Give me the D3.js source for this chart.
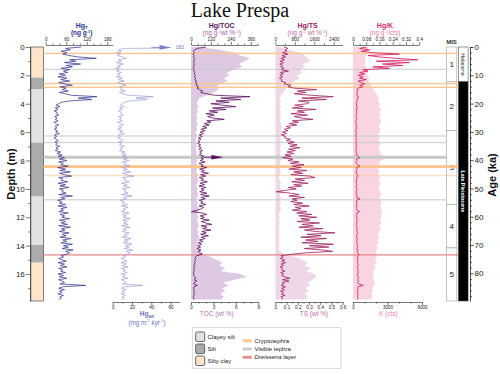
<!DOCTYPE html>
<html>
<head>
<meta charset="utf-8">
<script src="https://cdnjs.cloudflare.com/ajax/libs/d3/7.8.5/d3.min.js"></script>
<style>
  body { margin: 0; background: #fff; }
  svg { display: block; }
</style>
</head>
<body>
<svg id="svg" width="500" height="374"></svg>
<script>
// sample spacing down core (m)
const lineStep = 0.1;
const fillStep = 0.2;

// Hg_T (ng/g), every 0.1 m
const hgT = [
  104, 58, 72, 45, 62, 50, 68, 95, 148, 70,
  88, 55, 102, 60, 78, 45, 70, 52, 64, 40,
  58, 36, 62, 44, 70, 38, 55, 78, 42, 60,
  48, 66, 40, 58, 75, 150, 95, 135, 70, 45,
  38, 30, 42, 28, 36, 25, 34, 30, 38, 26,
  33, 28, 36, 24, 31, 38, 27, 33, 25, 35,
  29, 40, 26, 32, 24, 30, 37, 27, 34, 29,
  41, 30, 36, 28, 44, 33, 48, 36, 55, 40,
  62, 38, 52, 44, 66, 35, 58, 42, 72, 40,
  55, 76, 38, 50, 45, 64, 36, 58, 42, 68,
  40, 52, 47, 60, 38, 78, 44, 56, 35, 48,
  40, 58, 36, 62, 44, 52, 38, 66, 42, 55,
  47, 70, 40, 58, 45, 64, 38, 72, 46, 56,
  40, 68, 48, 60, 42, 74, 50, 62, 45, 78,
  52, 66, 48, 80, 58, 70, 62, 45, 52, 38,
  48, 60, 36, 55, 42, 62, 38, 50, 44, 58,
  36, 52, 40, 62, 38, 48, 55, 42, 117, 50,
  38, 55, 40, 48, 36, 52, 42, 46, 38
];

// Hg accumulation rate (mg m-2 kyr-1)
const hgAR = [
  183, 12, 6, 9, 4, 8, 5, 10, 14, 6,
  9, 4, 11, 5, 8, 3, 7, 4, 9, 5,
  8, 4, 10, 6, 12, 5, 9, 14, 7, 10,
  8, 13, 7, 11, 16, 42, 24, 36, 18, 12,
  10, 8, 12, 7, 10, 6, 9, 8, 11, 6,
  9, 7, 10, 5, 8, 11, 6, 9, 5, 10,
  7, 12, 6, 8, 5, 9, 11, 6, 9, 7,
  12, 8, 10, 7, 13, 9, 14, 10, 15, 11,
  17, 10, 14, 12, 18, 9, 15, 11, 19, 10,
  14, 22, 10, 13, 12, 17, 9, 15, 11, 18,
  10, 14, 12, 16, 9, 20, 11, 14, 8, 12,
  10, 15, 9, 16, 11, 13, 9, 17, 10, 14,
  11, 18, 10, 15, 11, 16, 9, 18, 11, 14,
  10, 17, 12, 15, 10, 19, 12, 16, 11, 20,
  13, 17, 12, 21, 14, 18, 16, 11, 13, 9,
  12, 15, 9, 14, 10, 16, 9, 13, 11, 15,
  9, 13, 10, 16, 9, 12, 14, 10, 31, 12,
  9, 14, 10, 12, 9, 13, 10, 12, 9
];

// Hg/TOC
const hgTOC = [
  90, 38, 22, 15, 20, 12, 18, 14, 24, 16,
  20, 13, 22, 15, 19, 12, 20, 16, 24, 18,
  26, 20, 30, 22, 34, 25, 38, 30, 45, 36,
  52, 70, 58, 95, 140, 355, 180, 300, 150, 230,
  120, 190, 270, 130, 210, 110, 160, 90, 140, 100,
  130, 200, 95, 120, 80, 110, 70, 95, 60, 85,
  55, 75, 50, 68, 45, 60, 42, 55, 40, 58,
  45, 62, 48, 70, 52, 65, 50, 80, 60, 75,
  55, 85, 48, 72, 60, 95, 52, 80, 62, 105,
  58, 88, 50, 75, 62, 98, 55, 82, 48, 90,
  60, 78, 52, 95, 58, 110, 62, 85, 50, 72,
  58, 90, 48, 76, 62, 40, 3, 68, 95, 55,
  80, 58, 110, 62, 88, 125, 60, 96, 70, 120,
  65, 92, 58, 105, 62, 85, 50, 72, 45, 64,
  40, 58, 36, 60, 42, 55, 68, 35, 28, 22,
  30, 20, 26, 18, 24, 16, 22, 15, 20, 14,
  18, 15, 22, 30, 18, 35, 20, 16, 38, 18,
  14, 20, 15, 22, 16, 19, 14, 18, 15
];

// TOC (wt %), every 0.2 m
const toc = [
  1.2, 3.8, 5.9, 6.6, 7.9, 7.2, 6.4, 6.9, 5.8, 4.8,
  5.1, 4.4, 4.9, 3.9, 3.4, 3.7, 3.0, 2.2, 1.1, 0.9,
  0.8, 1.0, 0.8, 0.9, 0.7, 0.8, 0.7, 0.9, 0.7, 0.8,
  0.6, 0.8, 0.7, 0.6, 0.8, 0.7, 0.6, 0.8, 0.7, 0.9,
  0.8, 0.7, 0.9, 0.8, 0.7, 0.9, 0.8, 1.0, 0.8, 0.7,
  0.9, 0.8, 1.0, 0.8, 0.7, 0.9, 0.8, 1.1, 0.9, 0.8,
  1.0, 0.8, 0.9, 1.1, 0.8, 1.0, 0.9, 1.1, 0.9, 1.0,
  0.8, 1.0, 1.2, 1.6, 2.6, 3.4, 4.2, 3.8, 4.6, 4.0,
  6.6, 7.5, 5.8, 4.3, 5.0, 4.1, 4.6, 3.9, 4.4, 4.0
];

// Hg/TS
const hgTS = [
  350, 520, 400, 470, 300, 520, 280, 420, 230, 380,
  200, 340, 180, 300, 220, 360, 250, 540, 210, 330,
  190, 300, 170, 280, 240, 420, 360, 650, 520, 760,
  1700, 900, 1250, 780, 1450, 2380, 1100, 2100, 950, 1400,
  1290, 800, 1150, 700, 1680, 900, 1200, 650, 1320, 780,
  1050, 1550, 700, 950, 580, 880, 450, 620, 380, 520,
  300, 460, 250, 420, 380, 620, 450, 780, 520, 900,
  600, 1010, 550, 820, 480, 760, 400, 650, 300, 720,
  520, 980, 620, 1180, 700, 1050, 560, 1300, 760, 1120,
  640, 1430, 1630, 820, 1200, 680, 1350, 760, 1080, 520,
  860, 420, 40, 620, 980, 560, 1200, 700, 900, 640,
  1120, 760, 1400, 820, 1060, 700, 1300, 880, 1500, 960,
  1700, 1050, 1420, 900, 1820, 1100, 1560, 980, 1950, 1200,
  1650, 2450, 1300, 1880, 1050, 2100, 1250, 1750, 1100, 2390,
  1400, 2200, 1200, 1900, 2350, 1300, 700, 240, 320, 210,
  380, 260, 420, 230, 350, 200, 310, 250, 400, 220,
  340, 260, 380, 600, 300, 560, 280, 350, 240, 420,
  260, 380, 220, 340, 250, 400, 230, 310, 260
];

// TS (wt %), every 0.2 m
const ts = [
  0.04, 0.12, 0.22, 0.26, 0.29, 0.31, 0.24, 0.27, 0.21, 0.24,
  0.19, 0.22, 0.17, 0.14, 0.11, 0.09, 0.07, 0.05, 0.04, 0.05,
  0.04, 0.05, 0.04, 0.05, 0.04, 0.05, 0.04, 0.05, 0.06, 0.05,
  0.06, 0.05, 0.04, 0.05, 0.04, 0.05, 0.04, 0.05, 0.04, 0.06,
  0.05, 0.04, 0.05, 0.04, 0.05, 0.04, 0.03, 0.04, 0.05, 0.04,
  0.05, 0.06, 0.04, 0.05, 0.04, 0.05, 0.04, 0.05, 0.04, 0.03,
  0.04, 0.03, 0.04, 0.03, 0.04, 0.03, 0.04, 0.03, 0.04, 0.03,
  0.04, 0.03, 0.04, 0.08, 0.18, 0.24, 0.29, 0.26, 0.32, 0.28,
  0.35, 0.37, 0.33, 0.29, 0.31, 0.27, 0.30, 0.26, 0.29, 0.27
];

// Hg/K
const hgK = [
  0.08, 0.04, 0.10, 0.05, 0.12, 0.28, 0.09, 0.16, 0.26, 0.39,
  0.14, 0.34, 0.18, 0.30, 0.12, 0.22, 0.06, 0.09, 0.04, 0.07,
  0.03, 0.06, 0.04, 0.08, 0.03, 0.05, 0.07, 0.04, 0.06, 0.03,
  .025, .03, .02, .028, .022, .035, .024, .03, .02, .026,
  .018, .024, .02, .028, .016, .022, .019, .025, .017, .021,
  .018, .024, .016, .02, .015, .022, .018, .025, .016, .02,
  .017, .023, .015, .02, .018, .024, .016, .021, .018, .022,
  .017, .024, .016, .02, .019, .023, .018, .03, .04, .02,
  .024, .018, .022, .028, .042, .02, .025, .018, .023, .019,
  .026, .03, .02, .024, .018, .022, .019, .025, .018, .022,
  .02, .024, .017, .023, .019, .026, .021, .042, .02, .024,
  .019, .025, .018, .023, .02, .026, .04, .022, .025, .019,
  .024, .02, .027, .021, .025, .019, .024, .021, .028, .02,
  .025, .03, .021, .026, .02, .027, .022, .026, .02, .03,
  .024, .028, .022, .03, .025, .028, .036, .03, .026, .032,
  .025, .03, .024, .033, .027, .031, .025, .034, .028, .032,
  .026, .03, .028, .036, .027, .033, .029, .034, .062, .03,
  .027, .032, .026, .03, .025, .031, .027, .03, .026
];

// K (cts), every 0.2 m
const kCts = [
  1350, 1280, 1200, 1150, 1050, 1100, 1000, 1150, 1250, 1320,
  1200, 1400, 1350, 1500, 1620, 1800, 1950, 2100, 2250, 2150,
  2350, 2200, 2450, 2300, 2400, 2250, 2450, 2350, 2200, 2400,
  2300, 2150, 2350, 2250, 2400, 2300, 2200, 2350, 2450, 3000,
  2400, 2250, 2350, 2200, 2300, 2150, 2350, 2250, 2400, 2300,
  2200, 2350, 2450, 2300, 2400, 2500, 2350, 2450, 2550, 2400,
  2500, 2350, 2450, 2300, 2400, 2250, 2150, 2300, 2100, 2200,
  2050, 2150, 2000, 1950, 2100, 1900, 2050, 1850, 1950, 1800,
  1700, 1850, 1750, 1900, 1800, 1650, 1750, 1600, 1700, 1550
];

// lithology
const lithTop = [0, 2.16, 2.98, 6.74, 10.54, 13.95, 15.2];
const lithBase = [2.16, 2.98, 6.74, 10.54, 13.95, 15.2, 17.9];
const lithType = ['Silty clay', 'Silt', 'Clayey silt', 'Silt', 'Clayey silt', 'Silt', 'Silty clay'];
const lithLegend = ['Clayey silt', 'Silt', 'Silty clay'];

// marker layers (depth m, thickness m)
const eventDepth = [0.45, 1.57, 2.58, 2.84, 6.27, 6.74, 7.77, 8.43, 9.06, 10.77, 14.65];
const eventThick = [0, 0, 0, 0, 0, 0, 0.22, 0.2, 0, 0, 0];
const eventType = ['Cryptotephra', 'Visible tephra', 'Cryptotephra', 'Cryptotephra', 'Visible tephra',
  'Visible tephra', 'Visible tephra', 'Cryptotephra', 'Cryptotephra', 'Visible tephra', 'Dreissena layer'];
const eventLegend = ['Cryptotephra', 'Visible tephra', 'Dreissena layer'];

// chronology (ka)
const misTop = [0, 12.3, 29.5, 55.6, 71];
const misBase = [12.3, 29.5, 55.6, 71, 89.75];
const misLabel = ['1', '2', '3', '4', '5'];
const epochTop = [0, 12.3];
const epochBase = [12.3, 89.75];
const epochName = ['Holocene', 'Late Pleistocene'];

// ticks
const depthTicks = [0, 2, 4, 6, 8, 10, 12, 14, 16];
const depthMinor = [1, 3, 5, 7, 9, 11, 13, 15, 17];
const ageTicks = [0, 10, 20, 30, 40, 50, 60, 70, 80];
const ageMinor = [0, 2, 4, 6, 8, 12, 14, 16, 18, 22, 24, 26, 28, 32, 34, 36, 38, 42, 44, 46, 48, 52, 54, 56, 58, 62, 64, 66, 68, 72, 74, 76, 78, 82, 84, 86, 88];
const hgTTicks = [0, 60, 120, 180];
const hgTMinor = [20, 40, 80, 100, 140, 160];
const hgARTicks = [0, 20, 40, 60];
const hgARMinor = [10, 30, 50];
const hgTOCTicks = [0, 120, 240, 360];
const hgTOCMinor = [40, 80, 160, 200, 280, 320, 400];
const tocTicks = [0, 3, 6, 9];
const tocMinor = [1, 2, 4, 5, 7, 8];
const hgTSTicks = [0, 800, 1600, 2400];
const hgTSMinor = [400, 1200, 2000];
const tsTicks = [0, 0.1, 0.2, 0.3, 0.4, 0.5, 0.6];
const tsMinor = [0.05, 0.15, 0.25, 0.35, 0.45, 0.55];
const hgKTicks = [0, 0.08, 0.16, 0.24, 0.32, 0.4];
const hgKMinor = [0.04, 0.12, 0.2, 0.28, 0.36];
const kTicks = [0, 3000, 6000];
const kMinor = [1000, 2000, 4000, 5000];

const FONT = '"Liberation Sans", Arial, sans-serif';
const svg = d3.select('#svg');
const defs = svg.append('defs');

const yDepth = d3.scaleLinear().domain([0, 17.9]).range([47, 301]);
const yAge = d3.scaleLinear().domain([0, 89.75]).range([47, 301]);

const xHgT = d3.scaleLinear().domain([0, 196]).range([45.7, 112.7]);
const xHgAR = d3.scaleLinear().domain([0, 69.5]).range([112.7, 179.8]);
const xHgTOC = d3.scaleLinear().domain([0, 405]).range([191, 258.3]);
const xTOC = d3.scaleLinear().domain([0, 9]).range([191, 258.3]);
const xHgTS = d3.scaleLinear().domain([0, 2770]).range([275.3, 342.7]);
const xTS = d3.scaleLinear().domain([0, 0.6]).range([275.3, 342.7]);
const xHgK = d3.scaleLinear().domain([0, 0.4]).range([353, 419.3]);
const xK = d3.scaleLinear().domain([0, 6000]).range([353, 422]);

const rows = (vals, step) => vals.map((v, i) => ({d: i * step, v: v}));

function clip(id, x0, x1) {
  defs.append('clipPath').attr('id', id).
  append('rect').attr('x', x0).attr('y', 40).attr('width', x1 - x0).attr('height', 265);
}
clip('cHgT', 44, 112.7);
clip('cHgAR', 112.7, 160);
clip('cTOC', 191, 258.3);
clip('cTS', 275.3, 342.7);
clip('cK', 353, 422);

function fill(vals, x, color, clipId) {
  svg.append('path').
  datum(rows(vals, fillStep)).
  attr('clip-path', `url(#${clipId})`).
  attr('fill', color).
  attr('d', d3.area().y(d => yDepth(d.d)).x0(x(0)).x1(d => x(d.v)));
}

function trace(vals, x, color, clipId, w) {
  svg.append('path').
  datum(rows(vals, lineStep)).
  attr('clip-path', `url(#${clipId})`).
  attr('fill', 'none').
  attr('stroke', color).
  attr('stroke-width', w || 0.7).
  attr('stroke-linejoin', 'round').
  attr('d', d3.line().x(d => x(d.v)).y(d => yDepth(d.d)));
}

// ---- fills
fill(toc, xTOC, '#ddc9e1', 'cTOC');
fill(ts, xTS, '#eed8e8', 'cTS');
fill(kCts, xK, '#f8d5e0', 'cK');

// ---- lithology column
const lithColor = {'Clayey silt': '#e2e2e2', 'Silt': '#ababab', 'Silty clay': '#fde4cb'};
svg.append('g').selectAll('rect').
data(lithType).
enter().
append('rect').
attr('x', 30.3).
attr('width', 13.2).
attr('y', (d, i) => yDepth(lithTop[i])).
attr('height', (d, i) => yDepth(lithBase[i]) - yDepth(lithTop[i])).
attr('fill', d => lithColor[d]);
svg.append('rect').attr('x', 30.3).attr('y', yDepth(0)).attr('width', 13.2).
attr('height', yDepth(17.9) - yDepth(0)).attr('fill', 'none').attr('stroke', '#333').attr('stroke-width', 0.6);

// ---- MIS and epoch columns
const mis = svg.append('g');
mis.selectAll('rect').
data(misLabel).
enter().
append('rect').
attr('x', 446.5).
attr('width', 10.3).
attr('y', (d, i) => yAge(misTop[i])).
attr('height', (d, i) => yAge(misBase[i]) - yAge(misTop[i])).
attr('fill', '#fff').
attr('stroke', '#aaa').
attr('stroke-width', 0.7);
mis.selectAll('text').
data(misLabel).
enter().
append('text').
attr('x', 451.7).
attr('y', (d, i) => (yAge(misTop[i]) + yAge(misBase[i])) / 2).
attr('dy', '0.35em').
attr('text-anchor', 'middle').
attr('font-family', FONT).
attr('font-size', 8).
attr('fill', '#222').
text(d => d);

const ep = svg.append('g');
ep.selectAll('rect').
data(epochName).
enter().
append('rect').
attr('x', 458.3).
attr('width', 9.8).
attr('y', (d, i) => yAge(epochTop[i])).
attr('height', (d, i) => yAge(epochBase[i]) - yAge(epochTop[i])).
attr('fill', (d, i) => i === 0 ? '#fff' : '#000').
attr('stroke', '#555').
attr('stroke-width', 0.6);
ep.selectAll('text').
data(epochName).
enter().
append('text').
attr('transform', (d, i) => `translate(463.2,${(yAge(epochTop[i]) + yAge(epochBase[i])) / 2}) rotate(90)`).
attr('dy', '0.35em').
attr('text-anchor', 'middle').
attr('font-family', FONT).
attr('font-size', 5.3).
attr('font-weight', (d, i) => i === 0 ? 'normal' : 'bold').
attr('fill', (d, i) => i === 0 ? '#222' : '#fff').
text(d => d);

// ---- marker layers
const eventColor = {'Cryptotephra': '#fcc590', 'Visible tephra': '#c9c9c9', 'Dreissena layer': '#e48c8c'};
const eventMin = {'Cryptotephra': 1.4, 'Visible tephra': 1.0, 'Dreissena layer': 1.3};
svg.append('g').selectAll('rect').
data(eventType).
enter().
append('rect').
attr('x', 43.5).
attr('width', d => (d === 'Visible tephra' ? 446.5 : 458.3) - 43.5).
attr('height', (d, i) => Math.max(eventMin[d], yDepth(eventThick[i]) - yDepth(0))).
attr('y', (d, i) => yDepth(eventDepth[i]) - Math.max(eventMin[d], yDepth(eventThick[i]) - yDepth(0)) / 2).
attr('fill', d => eventColor[d]).
attr('opacity', (d, i) => eventDepth[i] === 9.06 ? 0.6 : 1);

// ---- traces
trace(hgT, xHgT, '#34378f', 'cHgT', 0.75);
trace(hgAR, xHgAR, '#9a9dd3', 'cHgAR', 0.7);
trace(hgTOC, xHgTOC, '#5c0e60', 'cTOC', 0.8);
trace(hgTS, xHgTS, '#9c1d5e', 'cTS', 0.8);
trace(hgK, xHgK, '#d1175a', 'cK', 0.8);

// off-scale arrows
function arrow(x0, x1, y, color) {
  svg.append('line').attr('x1', x0).attr('x2', x1 - 10).attr('y1', y).attr('y2', y).
  attr('stroke', color).attr('stroke-width', 0.8);
  svg.append('path').attr('d', `M${x1 - 12},${y - 2.3}L${x1},${y}L${x1 - 12},${y + 2.3}Z`).attr('fill', color);
}
arrow(xHgAR(40), xHgAR(61), yDepth(0) + 0.4, '#7e82c6');
arrow(xHgTOC(80), xHgTOC(195), yDepth(7.77), '#5c0e60');
svg.append('text').attr('x', xHgAR(65)).attr('y', yDepth(0) + 2).
attr('font-family', FONT).attr('font-size', 5).attr('fill', '#6f74c0').text(hgAR[0]);

// ---- axes
function axis(gen, scale, tf, major, minor, fmt, size, fs) {
  const g = svg.append('g').attr('transform', tf);
  g.call(gen(scale).tickValues(minor).tickSize(size * 0.5).tickSizeOuter(0).tickFormat(''));
  const m = g.append('g').call(gen(scale).tickValues(major).tickSize(size).tickSizeOuter(0).tickPadding(1).tickFormat(fmt));
  m.select('.domain').remove();
  g.selectAll('line, path').attr('stroke', '#222').attr('stroke-width', 0.6);
  g.attr('font-family', FONT).attr('font-size', fs);
  m.attr('font-family', FONT).attr('font-size', fs);
  g.selectAll('text').attr('fill', '#222');
  return g;
}
const fmt = d => String(d);
axis(d3.axisTop, xHgT, 'translate(0,45)', hgTTicks, hgTMinor, fmt, 3, 4.6);
axis(d3.axisBottom, xHgAR, 'translate(0,302)', hgARTicks, hgARMinor, fmt, 3, 4.6);
axis(d3.axisTop, xHgTOC, 'translate(0,45)', hgTOCTicks, hgTOCMinor, fmt, 3, 4.6);
axis(d3.axisBottom, xTOC, 'translate(0,302)', tocTicks, tocMinor, fmt, 3, 4.6);
axis(d3.axisTop, xHgTS, 'translate(0,45)', hgTSTicks, hgTSMinor, fmt, 3, 4.6);
axis(d3.axisBottom, xTS, 'translate(0,302)', tsTicks, tsMinor, fmt, 3, 4.6);
axis(d3.axisTop, xHgK, 'translate(0,45)', hgKTicks, hgKMinor, fmt, 3, 4.6);
axis(d3.axisBottom, xK, 'translate(0,302)', kTicks, kMinor, fmt, 3, 4.6);
axis(d3.axisLeft, yDepth, 'translate(30.3,0)', depthTicks, depthMinor, fmt, 4.5, 8);
const ageAx = axis(d3.axisRight, yAge, 'translate(470,0)', ageTicks, ageMinor, fmt, 3.6, 8);
ageAx.selectAll('line, path').attr('stroke-width', 0.8);

// ---- labels
function rich(x, y, segs, size, color, weight) {
  const t = svg.append('text').attr('x', x).attr('y', y).attr('text-anchor', 'middle').
  attr('font-family', FONT).attr('font-size', size).attr('fill', color).attr('font-weight', weight || 'normal');
  let shift = 0;
  segs.forEach(([s, kind]) => {
    const target = kind === 'sup' ? -size * 0.38 : kind === 'sub' ? size * 0.25 : 0;
    t.append('tspan').
    attr('dy', target - shift).
    attr('font-size', kind === 'sup' || kind === 'sub' ? size * 0.62 : size).
    attr('font-style', kind === 'i' ? 'italic' : null).
    text(s);
    shift = target;
  });
  return t;
}

svg.append('text').attr('x', 240).attr('y', 17).attr('text-anchor', 'middle').
attr('font-family', '"Liberation Serif", "Times New Roman", serif').attr('font-size', 20).attr('fill', '#111').
text('Lake Prespa');

rich(81.7, 27.6, [['Hg'], ['T', 'sub']], 7, '#2e3192', 'bold');
rich(81.7, 35.2, [['(ng g'], ['-1', 'sup'], [')']], 6.5, '#2e3192', 'bold');
rich(147, 316, [['Hg'], ['AR', 'sub']], 6.5, '#6f74c0', 'bold');
rich(147, 324.5, [['(mg m'], ['-2', 'sup'], [' kyr'], ['-1', 'sup'], [')']], 6.3, '#6f74c0');
rich(221.7, 27.6, [['Hg/TOC']], 7, '#5e1463', 'bold');
rich(221.7, 35.2, [['(ng g'], ['-1', 'sup'], ['wt %'], ['-1', 'sup'], [')']], 6.5, '#a561a8');
rich(307.5, 27.6, [['Hg/TS']], 7, '#99205f', 'bold');
rich(307.5, 35.2, [['(ng g'], ['-1', 'sup'], [' wt %'], ['-1', 'sup'], [')']], 6.5, '#c0679c');
rich(385, 27.6, [['Hg/K']], 7, '#d42b65', 'bold');
rich(385, 35.2, [['(ng g'], ['-1', 'sup'], ['/cts)']], 6.5, '#e8799f');
rich(216.7, 315.5, [['TOC (wt %)']], 6.5, '#b07ab4');
rich(314, 315.5, [['TS (wt %)']], 6.5, '#c76fa2');
rich(388.3, 315.5, [['K (cts)']], 6.5, '#ee86aa');

svg.append('text').attr('x', 451.5).attr('y', 44.3).attr('text-anchor', 'middle').
attr('font-family', FONT).attr('font-size', 6).attr('font-weight', 'bold').attr('fill', '#333').text('MIS');

svg.append('text').attr('transform', 'translate(14.5,174) rotate(-90)').attr('text-anchor', 'middle').
attr('font-family', FONT).attr('font-size', 11).attr('font-weight', 'bold').attr('fill', '#111').text('Depth (m)');
svg.append('text').attr('transform', 'translate(495.5,175) rotate(-90)').attr('text-anchor', 'middle').
attr('font-family', FONT).attr('font-size', 11).attr('font-weight', 'bold').attr('fill', '#111').text('Age (ka)');

// ---- legend
const lg = svg.append('g');
lg.append('rect').attr('x', 192.3).attr('y', 327.7).attr('width', 148.7).attr('height', 40.6).
attr('fill', '#fff').attr('stroke', '#d0d0d0').attr('stroke-width', 0.8);
lg.selectAll('.lith').
data(lithLegend).
enter().
append('rect').
attr('x', 195.7).
attr('y', (d, i) => 332 + i * 12).
attr('width', 9).
attr('height', 9.5).
attr('rx', 1.5).
attr('fill', d => lithColor[d]).
attr('stroke', '#555').
attr('stroke-width', 0.9);
lg.selectAll('.lithText').
data(lithLegend).
enter().
append('text').
attr('x', 207.5).
attr('y', (d, i) => 338.8 + i * 12).
attr('font-family', FONT).
attr('font-size', 6).
attr('fill', '#222').
text(d => d);
lg.selectAll('.ev').
data(eventLegend).
enter().
append('rect').
attr('x', 242.7).
attr('y', (d, i) => 339.3 + i * 8.3).
attr('width', 9).
attr('height', 2.8).
attr('fill', d => eventColor[d]);
lg.selectAll('.evText').
data(eventLegend).
enter().
append('text').
attr('x', 254.5).
attr('y', (d, i) => 342.8 + i * 8.3).
attr('font-family', FONT).
attr('font-size', 6).
attr('fill', '#222').
each(function (d) {
  const t = d3.select(this);
  if (d === 'Dreissena layer') {
    t.append('tspan').attr('font-style', 'italic').text('Dreissena');
    t.append('tspan').text(' layer');
  } else {
    t.text(d);
  }
});
</script>
</body>
</html>
